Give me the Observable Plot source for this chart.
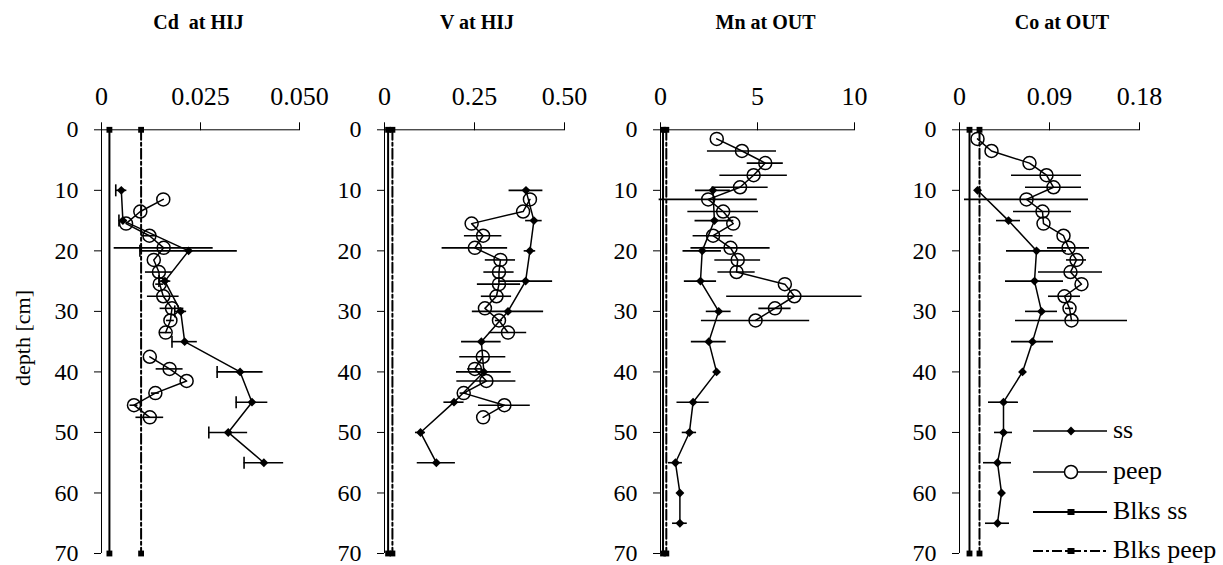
<!DOCTYPE html>
<html>
<head>
<meta charset="utf-8">
<script src="https://cdn.jsdelivr.net/npm/d3@7"></script>
<script src="https://cdn.jsdelivr.net/npm/@observablehq/plot@0.6"></script>
<style>
  html, body { margin: 0; padding: 0; background: #fff; }
  #wrap { position: relative; width: 1223px; height: 565px; overflow: hidden;
          font-family: "Liberation Serif", "Times New Roman", serif; }
  #wrap > svg { position: absolute; top: 0; overflow: visible; }
</style>
</head>
<body>
<div id="wrap"></div>
<script>
// ---------------- data ----------------
const depthTicks = [0, 10, 20, 30, 40, 50, 60, 70];
const depthTickLabels = ["0", "10", "20", "30", "40", "50", "60", "70"];
const blankDepths = [0, 70];

const ssDepthShort = [10, 15, 20, 25, 30, 35, 40, 45, 50, 55];
const ssDepthLong  = [10, 15, 20, 25, 30, 35, 40, 45, 50, 55, 60, 65];
const peepDepthShallow = [1.5, 3.5, 5.5, 7.5, 9.5, 11.5, 13.5, 15.5, 17.5, 19.5, 21.5, 23.5, 25.5, 27.5, 29.5, 31.5];
const peepDepthDeep = [11.5, 13.5, 15.5, 17.5, 19.5, 21.5, 23.5, 25.5, 27.5, 29.5, 31.5, 33.5, 35.5, 37.5, 39.5, 41.5, 43.5, 45.5, 47.5];

// Cd at HIJ
const cdTitle = "Cd  at HIJ";
const cdTicks = [0, 0.025, 0.05];
const cdTickLabels = ["0", "0.025", "0.050"];
const cdSs     = [0.005, 0.0054, 0.022, 0.016, 0.020, 0.021, 0.035, 0.038, 0.032, 0.041];
const cdSsErr  = [0.0014, 0.001, 0.0123, 0.0015, 0.0015, 0.0032, 0.0058, 0.004, 0.0049, 0.005];
const cdPeep   = [0.0156, 0.0098, 0.0062, 0.0121, 0.0157, 0.0132, 0.0145, 0.0147, 0.0156, 0.0178, 0.0174, 0.0162, null, 0.0122, 0.0172, 0.0215, 0.0136, 0.0082, 0.0122];
const cdPeepErr= [0, 0, 0, 0.002, 0.0125, 0, 0.0034, 0.001, 0.004, 0.003, 0.001, 0.0015, null, 0, 0.0034, 0, 0.001, 0.001, 0.0035];
const cdBlkSs = 0.002, cdBlkPeep = 0.010;

// V at HIJ
const vTitle = "V at HIJ";
const vTicks = [0, 0.25, 0.5];
const vTickLabels = ["0", "0.25", "0.50"];
const vSs     = [0.393, 0.415, 0.404, 0.392, 0.343, 0.269, 0.276, 0.193, 0.100, 0.144];
const vSsErr  = [0.047, 0.023, 0.016, 0.075, 0.099, 0.055, 0.076, 0.028, 0.014, 0.053];
const vPeep   = [0.404, 0.385, 0.242, 0.274, 0.251, 0.322, 0.318, 0.318, 0.311, 0.279, 0.318, 0.343, null, 0.273, 0.251, 0.283, 0.220, 0.333, 0.274];
const vPeepErr= [0, 0, 0, 0.052, 0.091, 0.042, 0.042, 0.06, 0.042, 0, 0.01, 0.052, null, 0.064, 0.02, 0.082, 0.01, 0.072, 0];
const vBlkSs = 0.010, vBlkPeep = 0.022;

// Mn at OUT
const mnTitle = "Mn at OUT";
const mnTicks = [0, 5, 10];
const mnTickLabels = ["0", "5", "10"];
const mnSs     = [2.70, 2.78, 2.15, 2.06, 3.00, 2.49, 2.89, 1.68, 1.49, 0.77, 1.00, 1.00];
const mnSsErr  = [0.9, 1.0, 0.99, 0.83, 0.64, 0.9, 0, 0.83, 0.37, 0.36, 0, 0.38];
const mnPeep   = [2.9, 4.2, 5.4, 4.8, 4.1, 2.46, 3.23, 3.75, 2.71, 3.61, 3.98, 3.92, 6.41, 6.9, 5.9, 4.9];
const mnPeepErr= [0, 1.78, 0.93, 1.74, 1.45, 2.53, 1.82, 0, 1.03, 2.04, 1.18, 0.96, 0, 3.49, 0.83, 2.79];
const mnBlkSs = 0.13, mnBlkPeep = 0.3;

// Co at OUT
const coTitle = "Co at OUT";
const coTicks = [0, 0.09, 0.18];
const coTickLabels = ["0", "0.09", "0.18"];
const coSs     = [0.018, 0.049, 0.077, 0.075, 0.082, 0.073, 0.063, 0.044, 0.044, 0.038, 0.042, 0.038];
const coSsErr  = [0, 0.012, 0.030, 0.029, 0.016, 0.021, 0, 0.015, 0.009, 0.014, 0, 0.012];
const coPeep   = [0.018, 0.032, 0.070, 0.087, 0.094, 0.067, 0.083, 0.084, 0.104, 0.109, 0.117, 0.111, 0.122, 0.105, 0.110, 0.112];
const coPeepErr= [0, 0, 0, 0.035, 0.028, 0.062, 0.029, 0, 0, 0.021, 0.010, 0.032, 0, 0.016, 0.004, 0.056];
const coBlkSs = 0.010, coBlkPeep = 0.020;

const legendLabels = ["ss", "peep", "Blks ss", "Blks peep"];
const yLabel = "depth [cm]";

// ---------------- drawing ----------------
const FONT = '"Liberation Serif", "Times New Roman", serif';
const wrap = document.getElementById("wrap");

const capSymbol = {
  draw(context, size) {
    const h = Math.sqrt(size / Math.PI);
    context.moveTo(0, -h);
    context.lineTo(0, h);
  }
};

function rows(depths, values, errs) {
  return depths.map((d, i) => ({d, v: values[i], e: errs[i]}));
}

function panel(cfg) {
  const ss = rows(cfg.ssDepth, cfg.ss, cfg.ssErr);
  const peep = rows(cfg.peepDepth, cfg.peep, cfg.peepErr);
  const peepValid = peep.filter(r => r.v != null);
  const blkSs = blankDepths.map(d => ({d, v: cfg.blkSs}));
  const blkPeep = blankDepths.map(d => ({d, v: cfg.blkPeep}));
  const marks = [
    Plot.axisX({anchor: "top", ticks: cfg.ticks, tickFormat: d => cfg.tickLabels[cfg.ticks.indexOf(d)],
      tickSize: 8, tickPadding: 17, fontSize: 26, label: null}),
    Plot.axisY({anchor: "left", ticks: depthTicks, tickFormat: d => depthTickLabels[depthTicks.indexOf(d)],
      tickSize: 7, tickPadding: 16, fontSize: 24, label: null}),
    Plot.ruleY([0], {stroke: "black", strokeWidth: 1}),
    Plot.ruleX([0], {stroke: "black", strokeWidth: 1}),
    Plot.line(blkSs, {x: "v", y: "d", stroke: "black", strokeWidth: 2}),
    Plot.line(blkPeep, {x: "v", y: "d", stroke: "black", strokeWidth: 2, strokeDasharray: "10,3,3,3"}),
    Plot.dot(blkSs, {x: "v", y: "d", symbol: "square", r: 3.3, fill: "black"}),
    Plot.dot(blkPeep, {x: "v", y: "d", symbol: "square", r: 3.3, fill: "black"}),
    Plot.ruleY(ss.filter(r => r.e > 0), {y: "d", x1: r => r.v - r.e, x2: r => r.v + r.e, stroke: "black", strokeWidth: 1.6}),
    Plot.ruleY(peep.filter(r => r.v != null && r.e > 0), {y: "d", x1: r => r.v - r.e, x2: r => r.v + r.e, stroke: "black", strokeWidth: 1.6}),
    Plot.line(peep, {x: "v", y: "d", stroke: "black", strokeWidth: 1.5}),
    Plot.line(ss, {x: "v", y: "d", stroke: "black", strokeWidth: 1.5}),
    Plot.dot(peepValid, {x: "v", y: "d", r: 6.5, stroke: "black", strokeWidth: 1.5, fill: "none"}),
    Plot.dot(ss, {x: "v", y: "d", symbol: "diamond2", r: 4, fill: "black"})
  ];
  if (cfg.caps) {
    marks.push(Plot.dot(ss.filter(r => r.e > 0), {x: r => r.v - r.e, y: "d", symbol: capSymbol, r: 6, stroke: "black", strokeWidth: 1.6, fill: "none"}));
  }
  const svg = Plot.plot({
    width: cfg.width, height: 565,
    marginLeft: cfg.ml, marginRight: cfg.mr, marginTop: 129.3, marginBottom: 12,
    x: {domain: [0, cfg.ticks[cfg.ticks.length - 1]], axis: null},
    y: {domain: [0, 70], reverse: true, axis: null},
    style: {color: "black", background: "transparent", overflow: "visible"},
    marks
  });
  svg.style.setProperty("font-family", FONT, "important");
  svg.style.left = cfg.left + "px";
  wrap.appendChild(svg);
}

panel({left: 0,   width: 309, ml: 101, mr: 10, ticks: cdTicks, tickLabels: cdTickLabels,
  ssDepth: ssDepthShort, ss: cdSs, ssErr: cdSsErr, peepDepth: peepDepthDeep, peep: cdPeep, peepErr: cdPeepErr,
  blkSs: cdBlkSs, blkPeep: cdBlkPeep, caps: true});
panel({left: 310, width: 264, ml: 74, mr: 10, ticks: vTicks, tickLabels: vTickLabels,
  ssDepth: ssDepthShort, ss: vSs, ssErr: vSsErr, peepDepth: peepDepthDeep, peep: vPeep, peepErr: vPeepErr,
  blkSs: vBlkSs, blkPeep: vBlkPeep});
panel({left: 580, width: 290, ml: 80, mr: 16, ticks: mnTicks, tickLabels: mnTickLabels,
  ssDepth: ssDepthLong, ss: mnSs, ssErr: mnSsErr, peepDepth: peepDepthShallow, peep: mnPeep, peepErr: mnPeepErr,
  blkSs: mnBlkSs, blkPeep: mnBlkPeep});
panel({left: 875, width: 274, ml: 84, mr: 10, ticks: coTicks, tickLabels: coTickLabels,
  ssDepth: ssDepthLong, ss: coSs, ssErr: coSsErr, peepDepth: peepDepthShallow, peep: coPeep, peepErr: coPeepErr,
  blkSs: coBlkSs, blkPeep: coBlkPeep});

// overlay: titles, y label, legend
const ov = d3.select(wrap).append("svg")
  .attr("width", 1223).attr("height", 565)
  .style("left", "0px").style("pointer-events", "none")
  .attr("font-family", FONT);

const titles = [[cdTitle, 198.5], [vTitle, 477], [mnTitle, 765.5], [coTitle, 1062]];
ov.selectAll("text.t").data(titles).join("text")
  .attr("x", d => d[1]).attr("y", 29).attr("text-anchor", "middle")
  .attr("font-size", 20).attr("font-weight", "bold")
  .style("white-space", "pre").attr("xml:space", "preserve")
  .text(d => d[0]);

ov.append("text")
  .attr("transform", "translate(30,338) rotate(-90)")
  .attr("text-anchor", "middle").attr("font-size", 22)
  .text(yLabel);

const legRows = [431, 472, 512, 551];
const lg = ov.append("g");
legendLabels.forEach((lab, i) => {
  const y = legRows[i];
  const line = lg.append("line").attr("x1", 1033).attr("x2", 1107).attr("y1", y).attr("y2", y)
    .attr("stroke", "black").attr("stroke-width", i >= 2 ? 2 : 1.5);
  if (i === 3) line.attr("stroke-dasharray", "10,3,3,3");
  if (i === 0) lg.append("path").attr("d", d3.symbol(d3.symbolDiamond2, 50)()).attr("transform", `translate(1071,${y})`).attr("fill", "black");
  if (i === 1) lg.append("circle").attr("cx", 1071).attr("cy", y).attr("r", 6.5).attr("fill", "white").attr("stroke", "black").attr("stroke-width", 1.5);
  if (i >= 2) lg.append("rect").attr("x", 1067.5).attr("y", y - 3).attr("width", 7).attr("height", 6).attr("fill", "black");
  lg.append("text").attr("x", 1113).attr("y", y + 7).attr("font-size", 26).text(lab);
});
</script>
</body>
</html>
